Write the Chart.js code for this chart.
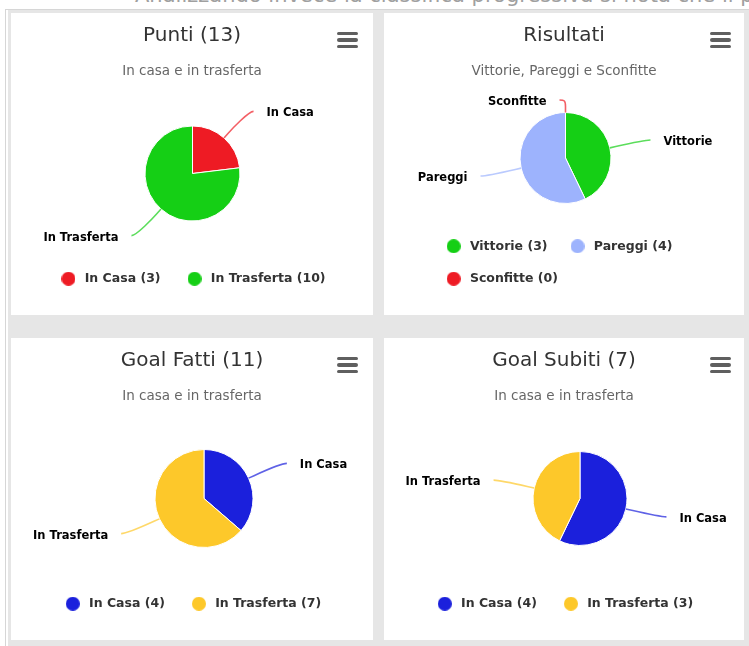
<!DOCTYPE html>
<html>
<head>
<meta charset="utf-8">
<script src="https://cdn.jsdelivr.net/npm/chart.js@4/dist/chart.umd.min.js"></script>
<style>
  body { margin: 0; width: 749px; height: 646px; overflow: hidden; background: #fff; position: relative; font-family: 'DejaVu Sans', sans-serif; }
  .intro { position: absolute; left: 135px; top: -17px; font-size: 21px; line-height: 24px; color: #a0a0a0; white-space: nowrap; }
  .sheet { position: absolute; left: 5px; top: 9px; right: 0; bottom: 0; border-left: 1px solid #d6d6d6; border-top: 1px solid #d6d6d6; background: #fff; }
  .bg { position: absolute; left: 8px; top: 10px; right: 0; bottom: 0; background: #e6e6e6; }
  .panel { position: absolute; background: #fff; }
  .panel canvas { position: absolute; left: 0; top: 0; }
  .menu { position: absolute; left: 326px; top: 18.5px; width: 21px; }
  .menu span { display: block; height: 3.5px; margin-bottom: 3.2px; background: #5f5f5f; border-radius: 2px; }
</style>
</head>
<body>
<div class="intro">Analizzando invece la classifica progressiva si nota che il percorso</div>
<div class="sheet"></div>
<div class="bg"></div>

<div class="panel" style="left:11px; top:13px; width:362px; height:302px;">
  <canvas id="punti" width="362" height="302"></canvas>
  <div class="menu"><span></span><span></span><span></span></div>
</div>
<div class="panel" style="left:384px; top:13px; width:360px; height:302px;">
  <canvas id="risultati" width="360" height="302"></canvas>
  <div class="menu"><span></span><span></span><span></span></div>
</div>
<div class="panel" style="left:11px; top:338px; width:362px; height:302px;">
  <canvas id="goalFatti" width="362" height="302"></canvas>
  <div class="menu"><span></span><span></span><span></span></div>
</div>
<div class="panel" style="left:384px; top:338px; width:360px; height:302px;">
  <canvas id="goalSubiti" width="360" height="302"></canvas>
  <div class="menu"><span></span><span></span><span></span></div>
</div>

<script>
const FONT = "'DejaVu Sans', sans-serif";

const puntiLabels = ['In Casa', 'In Trasferta'];
const puntiValues = [3, 10];

const risultatiLabels = ['Vittorie', 'Pareggi', 'Sconfitte'];
const risultatiValues = [3, 4, 0];

const goalLabels = ['In Casa', 'In Trasferta'];
const goalFattiValues = [4, 7];
const goalSubitiValues = [4, 3];

const casaColors = ['#ee1b24', '#15cf15'];
const risultatiColors = ['#15cf15', '#9db3fd', '#ee1b24'];
const goalColors = ['#1b20dc', '#fdc82a'];

Chart.defaults.font.family = FONT;

const total = function (values) {
    return values.reduce((a, b) => a + b, 0);
}

const dot = function (color) {
    const c = document.createElement('canvas');
    c.width = 14;
    c.height = 14;
    const g = c.getContext('2d');
    g.fillStyle = color;
    g.beginPath();
    g.arc(7, 7, 7, 0, Math.PI * 2);
    g.fill();
    return c;
}

// pie box + highcharts-like labels with soft connectors
const pieLabels = {
    id: 'pieLabels',
    afterLayout(chart, args, opts) {
        const {x, y, r} = opts.box;
        const h = r + 10;
        chart.chartArea = {left: x - h, top: y - h, right: x + h, bottom: y + h, width: 2 * h, height: 2 * h};
        if (opts.legendShift !== null) {
            const legend = chart.legend;
            const pad = legend.options.labels.padding;
            legend.left = (chart.width - legend.lineWidths[0] - pad) / 2 + opts.legendShift;
        }
    },
    afterDatasetsDraw(chart, args, opts) {
        const ctx = chart.ctx;
        const meta = chart.getDatasetMeta(0);
        const colors = chart.data.datasets[0].backgroundColor;
        const labels = chart.data.labels;
        ctx.save();
        ctx.font = 'bold 11.5px ' + FONT;
        ctx.textBaseline = 'middle';
        ctx.lineJoin = 'round';
        meta.data.forEach((arc, i) => {
            const p = arc.getProps(['x', 'y', 'startAngle', 'endAngle', 'outerRadius'], true);
            const mid = (p.startAngle + p.endAngle) / 2;
            const cos = Math.cos(mid);
            const sin = Math.sin(mid);
            const left = cos < 0;
            const dir = left ? -1 : 1;
            const tx = p.x + cos * p.outerRadius;
            const ty = p.y + sin * p.outerRadius;
            const bx = p.x + cos * (p.outerRadius + 6);
            const by = p.y + sin * (p.outerRadius + 6);
            const lx = p.x + cos * (p.outerRadius + opts.distance) + dir * 6;
            const ly = Math.max(p.y + sin * (p.outerRadius + opts.distance), opts.minY);

            ctx.globalAlpha = 0.7;
            ctx.strokeStyle = colors[i];
            ctx.lineWidth = 1.6;
            ctx.beginPath();
            ctx.moveTo(lx, ly);
            ctx.bezierCurveTo(lx - dir * 5, ly, 2 * bx - tx, 2 * by - ty, bx, by);
            ctx.lineTo(tx, ty);
            ctx.stroke();
            ctx.globalAlpha = 1;

            ctx.textAlign = left ? 'right' : 'left';
            ctx.strokeStyle = '#fff';
            ctx.lineWidth = 2;
            ctx.strokeText(labels[i], lx + dir * 13, ly + 2);
            ctx.fillStyle = '#000';
            ctx.fillText(labels[i], lx + dir * 13, ly + 2);
        });
        ctx.restore();
    }
}

const makePie = function (id, title, subtitle, labels, values, colors, box, legendPadding, legendShift) {
    return new Chart(document.getElementById(id), {
        type: 'pie',
        data: {
            labels: labels,
            datasets: [{
                data: values,
                backgroundColor: colors,
                borderColor: '#ffffff',
                borderWidth: 1,
                hoverOffset: 0,
                radius: box.r
            }]
        },
        options: {
            responsive: false,
            maintainAspectRatio: false,
            devicePixelRatio: 1,
            animation: false,
            events: [],
            layout: {padding: {bottom: 20}},
            plugins: {
                title: {
                    display: true,
                    text: title,
                    color: '#333333',
                    font: {size: 20, weight: 'normal'},
                    padding: {top: 11, bottom: 0}
                },
                subtitle: {
                    display: true,
                    text: subtitle,
                    color: '#666666',
                    font: {size: 13.5, weight: 'normal'},
                    padding: {top: 15.5, bottom: 0}
                },
                legend: {
                    position: 'bottom',
                    align: legendShift !== null ? 'start' : 'center',
                    labels: {
                        usePointStyle: true,
                        pointStyleWidth: 20,
                        padding: legendPadding,
                        color: '#333333',
                        font: {size: 12.5, weight: 'bold'},
                        generateLabels: () => labels.map((l, i) => ({
                            text: l + ' (' + values[i] + ')',
                            fillStyle: colors[i],
                            strokeStyle: colors[i],
                            lineWidth: 0,
                            pointStyle: dot(colors[i]),
                            fontColor: '#333333',
                            hidden: false,
                            index: i
                        }))
                    }
                },
                tooltip: {enabled: false},
                pieLabels: {box: box, distance: 35.5, minY: 87, legendShift: legendShift}
            }
        },
        plugins: [pieLabels]
    });
}

makePie('punti', 'Punti (' + total(puntiValues) + ')', 'In casa e in trasferta',
    puntiLabels, puntiValues, casaColors, {x: 181.5, y: 160.5, r: 47.5}, 24, null);
makePie('risultati', 'Risultati', 'Vittorie, Pareggi e Sconfitte',
    risultatiLabels, risultatiValues, risultatiColors, {x: 181.5, y: 145, r: 45.5}, 20, -6);
makePie('goalFatti', 'Goal Fatti (' + total(goalFattiValues) + ')', 'In casa e in trasferta',
    goalLabels, goalFattiValues, goalColors, {x: 193, y: 160.5, r: 49}, 24, null);
makePie('goalSubiti', 'Goal Subiti (' + total(goalSubitiValues) + ')', 'In casa e in trasferta',
    goalLabels, goalSubitiValues, goalColors, {x: 196, y: 160.5, r: 47}, 24, null);
</script>
</body>
</html>
